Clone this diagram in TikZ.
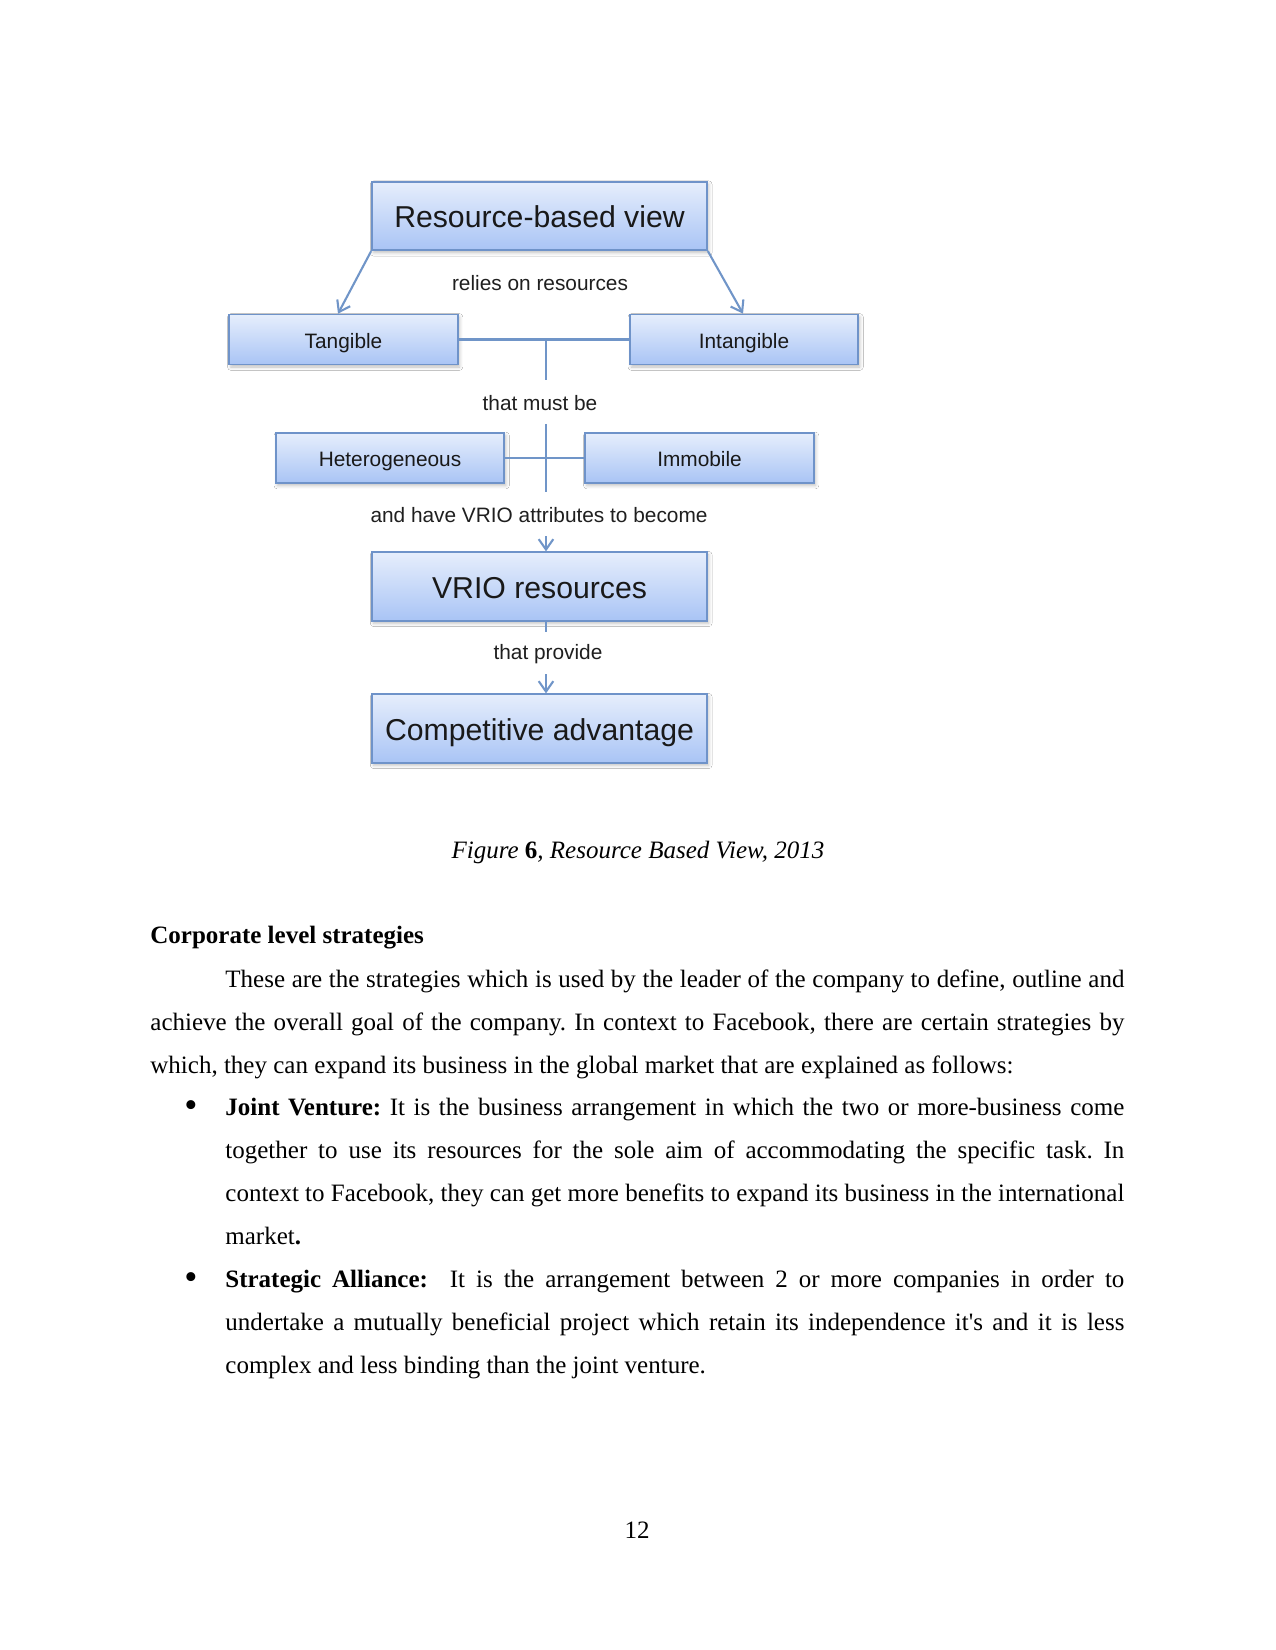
\documentclass[tikz,border=0pt]{standalone}
\usepackage{fontspec}
\setmainfont{Liberation Serif}
\newfontfamily\diagfont{Liberation Sans}
\usetikzlibrary{arrows.meta,shadows.blur,calc}
\definecolor{boxtop}{HTML}{E6EEFC}
\definecolor{boxbot}{HTML}{A9C4F5}
\definecolor{boxline}{HTML}{6F93C9}
\definecolor{conn}{HTML}{7095C8}
\tikzset{
  rbox/.style={draw=boxline, line width=0.8pt, top color=boxtop, bottom color=boxbot,
    inner sep=0pt, text=black!90, font=\diagfont\fontsize{10}{12}\selectfont,
    text height=8.6pt, text depth=0pt,
    minimum width=109.7pt, minimum height=24pt,
    blur shadow={shadow xshift=0.8pt, shadow yshift=-1.2pt, shadow blur radius=1.6pt, shadow opacity=25}},
  bigbox/.style={rbox, font=\diagfont\fontsize{14.5}{17}\selectfont,
    text height=11.2pt, text depth=0pt,
    minimum width=160.8pt, minimum height=32.9pt},
  lbl/.style={inner sep=1pt, text=black!88, font=\diagfont\fontsize{10}{12}\selectfont},
  conline/.style={draw=conn, line width=1pt},
  arr/.style={conline, -{Straight Barb[length=5pt,width=7pt]}},
  body/.style={anchor=base west, inner sep=0pt, font=\fontsize{12}{14}\selectfont},
  centred/.style={anchor=base, inner sep=0pt, font=\fontsize{12}{14}\selectfont},
  bulletmark/.style={anchor=base, inner sep=0pt, font=\fontsize{18}{20}\selectfont}
}
\newcommand{\jline}[2]{\makebox[#1][s]{#2}}
\newcommand{\straightq}{{\XeTeXglyph\XeTeXcharglyph"0027\relax}}
\frenchspacing
\begin{document}
\begin{tikzpicture}[x=0.48pt, y=-0.48pt]
\useasboundingbox[fill=white] (0,0) rectangle (1275,1650);

% boxes
\node[bigbox] (rbv) at (539.5,216) {Resource-based view};
\node[rbox] (tan) at (343.5,339.5) {Tangible};
\node[rbox] (intan) at (744,339.5) {Intangible};
\node[rbox] (het) at (390,458) {Heterogeneous};
\node[rbox] (imm) at (699.5,458) {Immobile};
\node[bigbox] (vrio) at (539.5,586.5) {VRIO resources};
\node[bigbox] (comp) at (539.5,728.5) {Competitive advantage};

% labels
\node[lbl] (relies) at (540,283) {relies on resources};
\node[lbl] (must) at (540,403) {that must be};
\node[lbl] (attr) at (539,515) {and have VRIO attributes to become};
\node[lbl] (prov) at (548,654) {that provide};

% connector coordinates
\coordinate (j1) at (546,339.5);
\coordinate (j1b) at (546,380);
\coordinate (j2) at (546,424);
\coordinate (j3) at (546,492);
\coordinate (a1) at (546,536);
\coordinate (v1) at (546,632);
\coordinate (a2) at (546,674);

% connectors
\draw[arr] (rbv.south west) -- ($(tan.north)+(-5.5,0)$);
\draw[arr] (rbv.south east) -- ($(intan.north)+(-1,0)$);
\draw[conline] (tan.east) -- (intan.west);
\draw[conline] (j1) -- (j1b);
\draw[conline] (j2) -- (j3);
\draw[conline] (het.east) -- (imm.west);
\draw[arr] (a1) -- (a1 |- vrio.north);
\draw[conline] (a1 |- vrio.south) -- (v1);
\draw[arr] (a2) -- (a2 |- comp.north);

% caption
\node[centred] (cap) at (638,858) {\textit{Figure} \textbf{6}\textit{, Resource Based View, 2013}};

% body text
\node[body] (head) at (150,943) {\textbf{Corporate level strategies}};
\node[body] (p1) at (225,987) {\jline{431.5pt}{These are the strategies which is used by the leader of the company to define, outline and}};
\node[body] (p2) at (150,1030) {\jline{467.5pt}{achieve the overall goal of the company. In context to Facebook, there are certain strategies by}};
\node[body] (p3) at (150,1073) {which, they can expand its business in the global market that are explained as follows:};

\node[bulletmark] (bul1) at (191,1117) {\textbullet};
\node[body] (b1) at (225,1115) {\jline{431.5pt}{\textbf{Joint Venture:} It is the business arrangement in which the two or more-business come}};
\node[body] (b2) at (225,1158) {\jline{431.5pt}{together to use its resources for the sole aim of accommodating the specific task. In}};
\node[body] (b3) at (225,1201) {\jline{431.5pt}{context to Facebook, they can get more benefits to expand its business in the international}};
\node[body] (b4) at (225,1244) {market\textbf{.}};
\node[bulletmark] (bul2) at (191,1289) {\textbullet};
\node[body] (b5) at (225,1287) {\jline{431.5pt}{\textbf{Strategic Alliance:}\ \ It is the arrangement between 2 or more companies in order to}};
\node[body] (b6) at (225,1330) {\jline{431.5pt}{undertake a mutually beneficial project which retain its independence it\straightq s and it is less}};
\node[body] (b7) at (225,1373) {complex and less binding than the joint venture.};

% page number
\node[centred] (pg) at (637,1538) {12};
\end{tikzpicture}
\end{document}
